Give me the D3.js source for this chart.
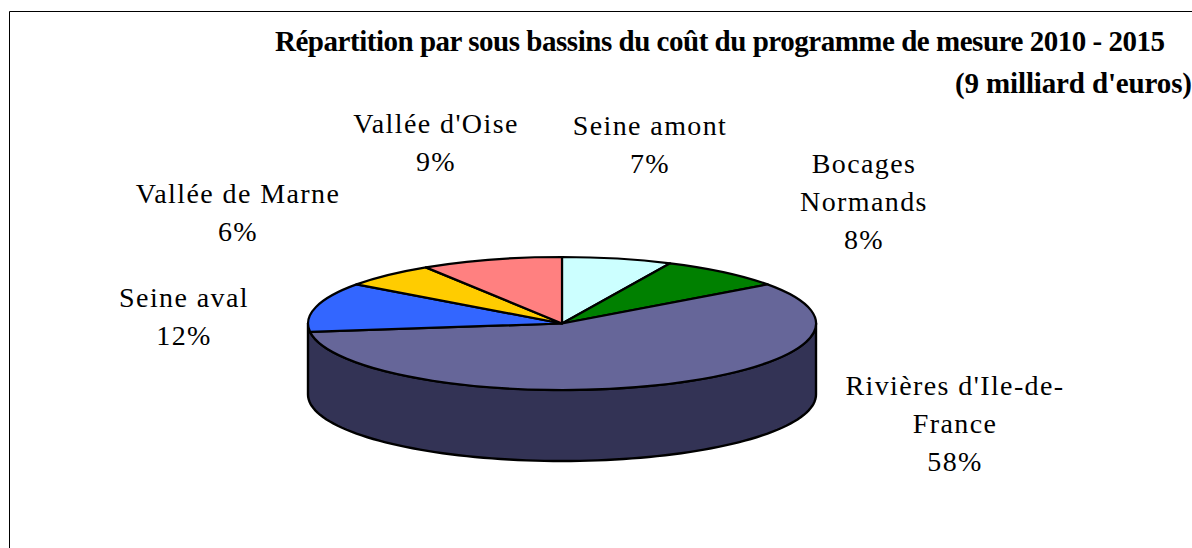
<!DOCTYPE html>
<html><head><meta charset="utf-8">
<script src="https://cdn.jsdelivr.net/npm/d3@7/dist/d3.min.js"></script>
<style>html,body{margin:0;background:#fff;overflow:hidden}svg{display:block}
text{font-family:"Liberation Serif",serif;fill:#000}</style></head><body>
<svg id="c" width="1192" height="548"></svg>
<script>
const categories=["Seine amont","Bocages Normands","Rivières d'Ile-de-France","Seine aval","Vallée de Marne","Vallée d'Oise"];
const values=[7,8,58,12,6,9];
const colors=["#CCFFFF","#008000","#666699","#3366FF","#FFCC00","#FF8080"];
const sideColor="#333355";
const titleLines=["Répartition par sous bassins du coût du programme de mesure 2010 - 2015","(9 milliard d'euros)"];
const labelLines=[["Seine amont","7%"],["Bocages","Normands","8%"],["Rivières d'Ile-de-","France","58%"],["Seine aval","12%"],["Vallée de Marne","6%"],["Vallée d'Oise","9%"]];
const labelAnchors=[[650,135],[864,173],[955,395],[184,307],[238,203],[436,133]];
const cx=562,cy=323.5,rx=254,ry=66.5,depth=71;
const svg=d3.select("#c");
svg.append("path").attr("d","M9.5 548V11.5H1192").attr("fill","none").attr("stroke","#000").attr("stroke-width",1);
const scaleX=d3.scaleLinear().domain([-1,1]).range([cx-rx,cx+rx]);
const scaleY=d3.scaleLinear().domain([-1,1]).range([cy-ry,cy+ry]);
// side wall
const front=d3.range(90,270.01,2).map(d=>d*Math.PI/180);
const rim=front.map(a=>[scaleX(Math.sin(a)),scaleY(-Math.cos(a))]);
const wall=[...rim,...rim.slice().reverse().map(p=>[p[0],p[1]+depth])];
svg.append("path").attr("d",d3.line()(wall)+"Z").attr("fill",sideColor).attr("stroke","#000").attr("stroke-width",2.4).attr("stroke-linejoin","round");
// top
const pie=d3.pie().sort(null).value(d=>d)(values);
const arc=d3.arc().innerRadius(0).outerRadius(1);
svg.append("g").attr("transform",`translate(${cx},${cy}) scale(${rx},${ry})`)
 .selectAll("path").data(pie).join("path")
 .attr("d",arc).attr("fill",(d,i)=>colors[i]).attr("stroke","#000").attr("stroke-width",2.2).attr("vector-effect","non-scaling-stroke").attr("stroke-linejoin","round");
// title
const titleX=[275,955],titleY=[51,93];
svg.append("g").selectAll("text").data(titleLines).join("text")
 .attr("x",(d,i)=>titleX[i]).attr("y",(d,i)=>titleY[i]).attr("font-size",29).attr("font-weight","bold").attr("textLength",(d,i)=>i?237:890).attr("lengthAdjust","spacing").text(d=>d);
// labels
const g=svg.append("g").attr("font-size",28).attr("text-anchor","middle").style("letter-spacing","1.4px");
labelLines.forEach((ls,i)=>{ls.forEach((l,j)=>{
 g.append("text").attr("x",labelAnchors[i][0]).attr("y",labelAnchors[i][1]+j*38).text(l);
});});
</script></body></html>
